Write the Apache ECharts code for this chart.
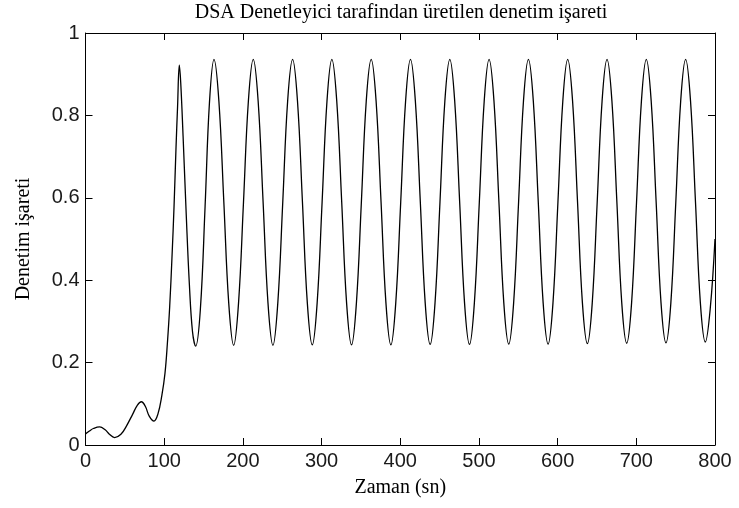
<!DOCTYPE html>
<html>
<head>
<meta charset="utf-8">
<script src="https://cdn.jsdelivr.net/npm/echarts@6/dist/echarts.min.js"></script>
<style>
  html, body { margin: 0; padding: 0; background: #fff; }
  #chart { width: 739px; height: 508px; }
</style>
</head>
<body>
<div id="chart"></div>
<script>
// Control signal produced by the DSA controller, sampled over time (s)
const timeSec = [
  0, 5, 10, 18, 25, 30, 37, 45, 52, 60, 66, 71, 76, 81, 87, 92, 97, 101, 104, 107, 110, 112.5, 115, 117, 119.2,
  121, 124, 128, 132, 136, 140, 146, 152, 157.5,
  163.3, 169.5, 175.8, 182.0, 188.3, 194.5, 200.8, 207.0,
  213.2, 219.4, 225.7, 231.9, 238.2, 244.4, 250.7, 256.9,
  263.2, 269.4, 275.7, 281.9, 288.2, 294.4, 300.7, 306.9,
  313.1, 319.3, 325.6, 331.8, 338.1, 344.3, 350.6, 356.8,
  363.1, 369.3, 375.6, 381.8, 388.1, 394.3, 400.6, 406.8,
  413.0, 419.2, 425.5, 431.7, 438.0, 444.2, 450.5, 456.7,
  463.0, 469.2, 475.5, 481.7, 488.0, 494.2, 500.5, 506.7,
  512.9, 519.1, 525.4, 531.6, 537.9, 544.1, 550.4, 556.6,
  562.9, 569.1, 575.4, 581.6, 587.9, 594.1, 600.4, 606.6,
  612.8, 619.0, 625.3, 631.5, 637.8, 644.0, 650.3, 656.5,
  662.8, 669.0, 675.3, 681.5, 687.8, 694.0, 700.3, 706.5,
  712.7, 718.9, 725.2, 731.4, 737.7, 743.9, 750.2, 756.4,
  762.7, 768.9, 775.2, 781.4, 787.7, 793.9, 800
];
const controlSignal = [
  0.027, 0.034, 0.040, 0.044, 0.037, 0.027, 0.018, 0.026, 0.046, 0.075, 0.097, 0.105, 0.094, 0.070, 0.058, 0.075, 0.120, 0.174, 0.245, 0.336, 0.460, 0.578, 0.720, 0.821, 0.922,
  0.880, 0.750, 0.560, 0.390, 0.275, 0.240, 0.330, 0.580, 0.830,
  0.936, 0.835, 0.590, 0.345, 0.242, 0.345, 0.590, 0.835,
  0.936, 0.835, 0.590, 0.345, 0.242, 0.345, 0.590, 0.835,
  0.936, 0.835, 0.590, 0.345, 0.243, 0.345, 0.590, 0.835,
  0.936, 0.835, 0.590, 0.345, 0.243, 0.345, 0.590, 0.835,
  0.936, 0.835, 0.590, 0.345, 0.243, 0.345, 0.590, 0.835,
  0.936, 0.835, 0.590, 0.345, 0.244, 0.345, 0.590, 0.835,
  0.936, 0.835, 0.590, 0.345, 0.244, 0.345, 0.590, 0.835,
  0.936, 0.835, 0.590, 0.345, 0.245, 0.345, 0.590, 0.835,
  0.936, 0.835, 0.590, 0.345, 0.245, 0.345, 0.590, 0.835,
  0.936, 0.835, 0.590, 0.345, 0.246, 0.345, 0.590, 0.835,
  0.936, 0.835, 0.590, 0.345, 0.247, 0.345, 0.590, 0.835,
  0.936, 0.835, 0.590, 0.345, 0.248, 0.345, 0.590, 0.835,
  0.936, 0.835, 0.590, 0.345, 0.250, 0.330, 0.500
];

const xTicks = [0, 100, 200, 300, 400, 500, 600, 700, 800];
const yTicks = [0, 0.2, 0.4, 0.6, 0.8, 1];

const titleText = 'DSA Denetleyici tarafindan üretilen denetim işareti';
const xTitle = 'Zaman (sn)';
const yTitle = 'Denetim işareti';

const serif = '"Liberation Serif", "DejaVu Serif", serif';
const sans = '"Liberation Sans", Arial, sans-serif';

const chart = echarts.init(document.getElementById('chart'), null, { renderer: 'canvas' });

const points = timeSec.map((t, i) => [t, controlSignal[i]]);

// Boxed axes: every side carries a line and inward ticks
const axisCommon = {
  type: 'value',
  axisLine: { show: true, onZero: false, lineStyle: { color: '#000', width: 1 } },
  axisTick: { show: true, inside: true, length: 7, lineStyle: { color: '#000', width: 1 } },
  splitLine: { show: false }
};

chart.setOption({
  animation: false,
  backgroundColor: '#fff',
  title: {
    text: titleText,
    left: 401,
    textAlign: 'center',
    top: 3,
    padding: 0,
    textStyle: { fontFamily: serif, fontSize: 20, fontWeight: 'normal', color: '#000' }
  },
  grid: { left: 85.5, right: 24, top: 33, bottom: 63, containLabel: false, show: false },
  xAxis: [
    Object.assign({}, axisCommon, {
      min: xTicks[0], max: xTicks[xTicks.length - 1], interval: xTicks[1] - xTicks[0],
      position: 'bottom',
      name: xTitle, nameLocation: 'middle', nameGap: 33,
      nameTextStyle: { fontFamily: serif, fontSize: 20, color: '#000' },
      axisLabel: { margin: 6, fontFamily: sans, fontSize: 20, color: '#1a1a1a' }
    }),
    Object.assign({}, axisCommon, {
      min: xTicks[0], max: xTicks[xTicks.length - 1], interval: xTicks[1] - xTicks[0],
      position: 'top',
      axisLabel: { show: false }
    })
  ],
  yAxis: [
    Object.assign({}, axisCommon, {
      min: yTicks[0], max: yTicks[yTicks.length - 1], interval: yTicks[1] - yTicks[0],
      position: 'left',
      name: yTitle, nameLocation: 'middle', nameGap: 52,
      nameTextStyle: { fontFamily: serif, fontSize: 20, color: '#000' },
      axisLabel: { margin: 6, fontFamily: sans, fontSize: 20, color: '#1a1a1a' }
    }),
    Object.assign({}, axisCommon, {
      min: yTicks[0], max: yTicks[yTicks.length - 1], interval: yTicks[1] - yTicks[0],
      position: 'right',
      axisLabel: { show: false }
    })
  ],
  series: [{
    type: 'line',
    data: points,
    xAxisIndex: 0,
    yAxisIndex: 0,
    smooth: 0.4,
    showSymbol: false,
    symbol: 'none',
    lineStyle: { color: '#000', width: 1.3 },
    clip: true
  }]
});
</script>
</body>
</html>
